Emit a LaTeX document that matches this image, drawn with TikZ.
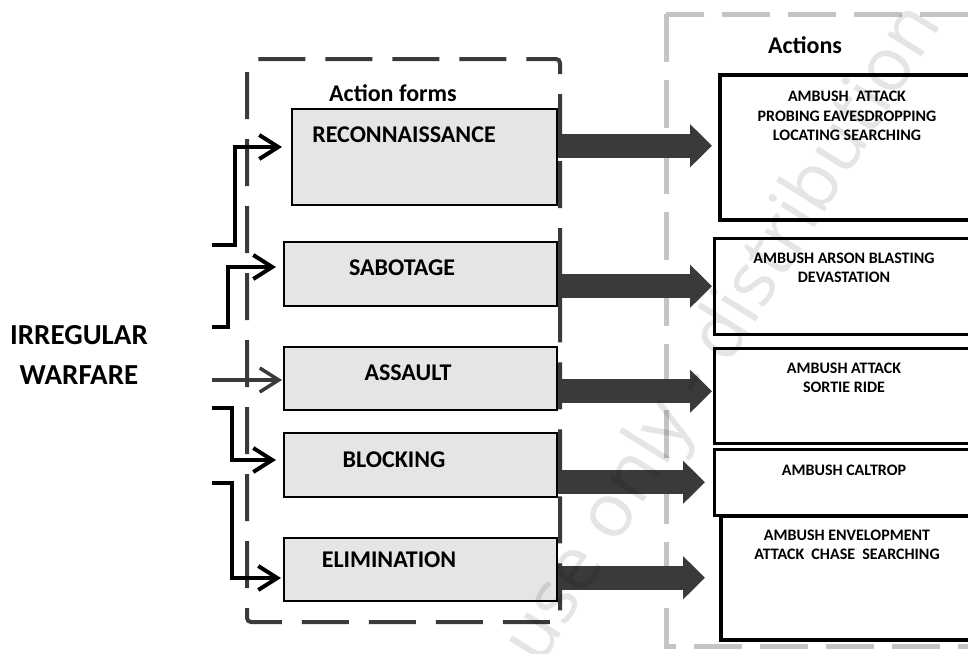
\documentclass[tikz,border=0pt]{standalone}
\usepackage{fontspec}
\setmainfont{Carlito}
\newfontfamily\wmfont{Open Sans}
\usetikzlibrary{arrows.meta}
\definecolor{dg}{HTML}{3A3A3A}
\definecolor{lg}{HTML}{C4C4C4}
\definecolor{boxfill}{HTML}{E5E5E5}
\tikzset{
  formbox/.style={draw=black, line width=2pt, fill=boxfill, inner sep=0pt, rectangle},
  actbox/.style={draw=black, line width=2.5pt, fill=white, inner sep=0pt, rectangle, anchor=north west},
  formtext/.style={font=\bfseries\fontsize{24}{28}\selectfont, inner sep=0pt},
  acttext/.style={font=\bfseries\fontsize{16}{19.5}\selectfont, align=center, inner sep=0pt},
  conn/.style={line width=4pt, black, -{Straight Barb[length=19pt,width=24pt]}},
  blockarr/.style={line width=24pt, dg, -{Triangle[length=22pt,width=42pt]}},
}
\begin{document}
\begin{tikzpicture}[x=1pt,y=-1pt]
\useasboundingbox (0,0) rectangle (968,653);
\clip (0,0) rectangle (968,653);
% dashed frames
\draw[line width=4pt, dg, dash pattern=on 47pt off 20pt, rounded corners=4pt] (247,72) -- (247,622) -- (560,622) -- (560,59) -- (254,59);
\draw[line width=5pt, lg, dash pattern=on 48pt off 18pt] (666,14) rectangle (1010,646);
% titles
\node[formtext] (tforms) at (393,93) {Action forms};
\node[formtext] (tacts) at (805,45) {Actions};
\node[font=\bfseries\fontsize{29}{40}\selectfont, align=center, inner sep=0pt] (iw) at (79,355) {IRREGULAR\\WARFARE};
% action form boxes
\node[formbox, minimum width=265pt, minimum height=96pt] (rec) at (424.5,157) {};
\node[formbox, minimum width=273pt, minimum height=64pt] (sab) at (420.5,274) {};
\node[formbox, minimum width=273pt, minimum height=63pt] (ass) at (420.5,378.5) {};
\node[formbox, minimum width=273pt, minimum height=64pt] (blk) at (420.5,465) {};
\node[formbox, minimum width=273pt, minimum height=63pt] (eli) at (420.5,569.5) {};
\node[formtext] (lrec) at (404,135) {RECONNAISSANCE};
\node[formtext] (lsab) at (402,268) {SABOTAGE};
\node[formtext] (lass) at (408,373) {ASSAULT};
\node[formtext] (lblk) at (394,460) {BLOCKING};
\node[formtext] (leli) at (389,560) {ELIMINATION};
% action boxes
\node[actbox, line width=3.5pt, minimum width=280pt, minimum height=145pt] (a1) at (718,73) {};
\node[actbox, minimum width=280pt, minimum height=96pt] (a2) at (713,237) {};
\node[actbox, minimum width=280pt, minimum height=95pt] (a3) at (713,347) {};
\node[actbox, minimum width=280pt, minimum height=66pt] (a4) at (713,448) {};
\node[actbox, line width=3.5pt, minimum width=280pt, minimum height=124pt] (a5) at (719,514) {};
\node[acttext] (x1) at (847,116) {AMBUSH\ \ ATTACK\\PROBING EAVESDROPPING\\LOCATING SEARCHING};
\node[acttext] (x2) at (844,268) {AMBUSH ARSON BLASTING\\DEVASTATION};
\node[acttext] (x3) at (844,378) {AMBUSH ATTACK\\SORTIE RIDE};
\node[acttext] (x4) at (844,470) {AMBUSH CALTROP};
\node[acttext] (x5) at (847,545) {AMBUSH ENVELOPMENT\\ATTACK\ \ CHASE\ \ SEARCHING};
% block arrows
\coordinate (t1) at ([yshift=1.5pt]a1.west);
\coordinate (t3) at ([yshift=4.5pt]a3.west);
\draw[blockarr, shorten >=6pt] (t1 -| rec.east) -- (t1);
\draw[blockarr, shorten >=1pt] (a2.west -| sab.east) -- (a2.west);
\draw[blockarr, shorten >=1pt] (t3 -| ass.east) -- (t3);
\draw[blockarr, shorten >=8pt] (a4.west -| blk.east) -- (a4.west);
\draw[blockarr, shorten >=14pt] (a5.west -| eli.east) -- (a5.west);
% connectors
\coordinate (s1) at (212,245);
\coordinate (s2) at (212,327);
\coordinate (s3) at (212,380);
\coordinate (s4) at (212,408);
\coordinate (s5) at (212,483);
\draw[conn, shorten >=9pt] (s1) -- ++(23,0) |- ([yshift=10pt]rec.west);
\draw[conn, shorten >=7pt] (s2) -- ++(16,0) |- ([yshift=7pt]sab.west);
\draw[conn, line width=3.5pt, dg, shorten >=1pt] (s3) -- (s3 -| ass.west);
\draw[conn, shorten >=7pt] (s4) -- ++(20,0) |- ([yshift=5pt]blk.west);
\draw[conn, shorten >=2pt] (s5) -- ++(20,0) |- ([yshift=-8.5pt]eli.west);
% watermark
\node[black, text opacity=0.1, rotate=58, font=\wmfont\fontsize{75}{80}\selectfont, inner sep=0pt] (wmark) at (725,335) {use only - distribution};
\end{tikzpicture}
\end{document}
